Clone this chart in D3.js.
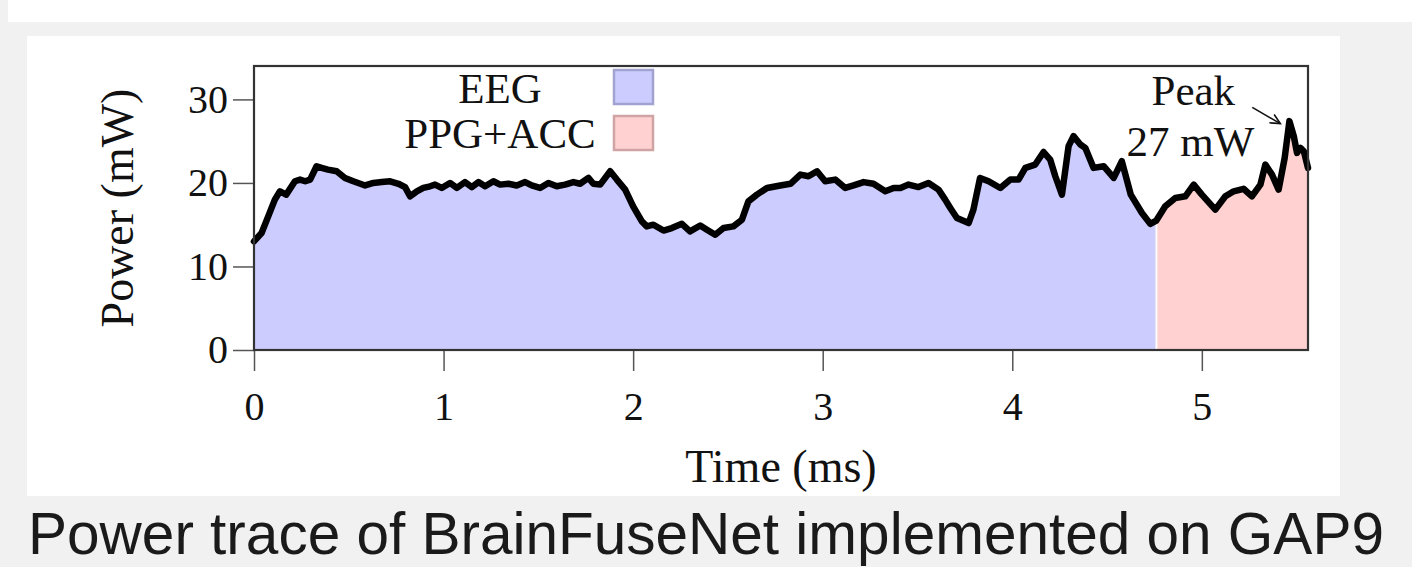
<!DOCTYPE html>
<html>
<head>
<meta charset="utf-8">
<script src="https://cdn.jsdelivr.net/npm/d3@7"></script>
<style>
  body { margin: 0; background: #f1f1f1; }
  svg { display: block; }
</style>
</head>
<body>
<script>
// power trace (time in ms, power in mW)
const timeMs = [0.00, 0.04, 0.075, 0.11, 0.137, 0.17, 0.216, 0.243, 0.27, 0.296, 0.33, 0.357, 0.39, 0.436, 0.48, 0.524, 0.586, 0.63, 0.674, 0.718,
  0.762, 0.797, 0.823, 0.859, 0.893, 0.929, 0.955, 0.99, 1.034, 1.07, 1.113, 1.149, 1.184, 1.219, 1.263, 1.298, 1.342, 1.386, 1.43, 1.465,
  1.509, 1.553, 1.597, 1.641, 1.685, 1.72, 1.764, 1.79, 1.826, 1.879, 1.914, 1.958, 2.0, 2.046, 2.072, 2.107, 2.16, 2.204, 2.257, 2.3,
  2.354, 2.389, 2.433, 2.477, 2.529, 2.574, 2.608, 2.653, 2.706, 2.776, 2.83, 2.882, 2.925, 2.97, 3.013, 3.066, 3.119, 3.163, 3.216, 3.268,
  3.33, 3.374, 3.41, 3.453, 3.505, 3.558, 3.611, 3.646, 3.673, 3.708, 3.77, 3.795, 3.83, 3.875, 3.937, 3.99, 4.033, 4.069, 4.121, 4.165,
  4.2, 4.227, 4.262, 4.297, 4.323, 4.359, 4.385, 4.429, 4.482, 4.535, 4.578, 4.625, 4.684, 4.728, 4.76, 4.807, 4.86, 4.913, 4.957, 5.0,
  5.071, 5.124, 5.168, 5.22, 5.264, 5.309, 5.335, 5.37, 5.405, 5.437, 5.462, 5.485, 5.502, 5.52, 5.538, 5.56];
const powerMw = [13.0, 14.0, 16.0, 18.0, 19.0, 18.6, 20.2, 20.4, 20.2, 20.4, 22.0, 21.8, 21.6, 21.4, 20.6, 20.2, 19.7, 20.0, 20.1, 20.2,
  19.9, 19.5, 18.4, 19.0, 19.4, 19.6, 19.8, 19.4, 20.0, 19.4, 20.1, 19.5, 20.1, 19.6, 20.2, 19.8, 19.9, 19.7, 20.1, 19.7,
  19.4, 20.0, 19.6, 19.8, 20.1, 19.9, 20.6, 19.9, 19.8, 21.4, 20.4, 19.2, 17.2, 15.4, 14.8, 15.0, 14.3, 14.6, 15.1, 14.2,
  14.9, 14.4, 13.8, 14.6, 14.8, 15.6, 17.8, 18.6, 19.4, 19.7, 19.9, 21.0, 20.8, 21.4, 20.2, 20.4, 19.4, 19.7, 20.1, 19.9,
  19.0, 19.4, 19.4, 19.8, 19.5, 20.0, 19.2, 18.0, 17.0, 15.8, 15.2, 16.8, 20.6, 20.2, 19.4, 20.4, 20.4, 21.8, 22.2, 23.7,
  22.8, 20.8, 18.6, 24.4, 25.6, 24.6, 24.2, 21.8, 22.0, 20.6, 22.6, 18.6, 16.4, 15.1, 15.5, 17.2, 18.2, 18.4, 19.8, 18.6,
  16.8, 18.4, 19.0, 19.3, 18.4, 19.8, 22.2, 21.0, 19.2, 23.0, 27.4, 25.6, 23.6, 24.2, 23.8, 21.8];

const splitTime = 4.76;           // EEG -> PPG+ACC
const phaseLabels = ["EEG", "PPG+ACC"];
const phaseColors = ["#ccccff", "#ffd1d1"];
const phaseEdges = ["#a2a2d0", "#d0a4a4"];
const xTicks = [0, 1, 2, 3, 4, 5];
const yTicks = [0, 10, 20, 30];
const peakLabel = ["Peak", "27 mW"];

const W = 1412, H = 567;
const serif = "'Liberation Serif', 'Times New Roman', serif";

const svg = d3.select("body").append("svg")
  .attr("width", W)
  .attr("height", H);

// page background pieces
svg.append("rect").attr("x", 0).attr("y", 0).attr("width", W).attr("height", H).attr("fill", "#f1f1f1");
svg.append("rect").attr("x", 8).attr("y", 0).attr("width", W - 8).attr("height", 22).attr("fill", "#ffffff");
svg.append("rect").attr("x", 27).attr("y", 36).attr("width", 1313).attr("height", 460).attr("fill", "#ffffff");

const x = d3.scaleLinear().domain([0, 5.56]).range([254, 1308]);
const y = d3.scaleLinear().domain([0, 34]).range([350, 66]);

const pts = timeMs.map((t, i) => ({t: t, p: powerMw[i]}));
const eegPts = pts.filter(d => d.t <= splitTime);
const ppgPts = pts.filter(d => d.t >= splitTime);

const area = d3.area()
  .x(d => x(d.t))
  .y0(y(0))
  .y1(d => y(d.p));

svg.append("path")
  .datum(eegPts)
  .attr("d", area)
  .attr("fill", phaseColors[0])
  .attr("stroke", "#8888cc")
  .attr("stroke-width", 1);

svg.append("path")
  .datum(ppgPts)
  .attr("d", area)
  .attr("fill", phaseColors[1])
  .attr("stroke", "#cc8888")
  .attr("stroke-width", 1);

// white seam between the two phases
svg.append("line")
  .attr("x1", x(splitTime)).attr("x2", x(splitTime))
  .attr("y1", y(0)).attr("y2", y(15.5))
  .attr("stroke", "#ffffff")
  .attr("stroke-width", 2);

// trace
const line = d3.line()
  .x(d => x(d.t))
  .y(d => y(d.p));

svg.append("path")
  .datum(pts)
  .attr("d", line)
  .attr("fill", "none")
  .attr("stroke", "#000")
  .attr("stroke-width", 6.5)
  .attr("stroke-linejoin", "round")
  .attr("stroke-linecap", "round");

// axes
const xAxis = svg.append("g")
  .attr("transform", "translate(0," + y(0) + ")")
  .call(d3.axisBottom(x).tickValues(xTicks).tickSize(21).tickSizeOuter(0).tickPadding(21).tickFormat(d3.format("d")));

const yAxis = svg.append("g")
  .attr("transform", "translate(" + x(0) + ",0)")
  .call(d3.axisLeft(y).tickValues(yTicks).tickSize(21).tickSizeOuter(0).tickPadding(5).tickFormat(d3.format("d")));

[xAxis, yAxis].forEach(function(g) {
  g.select(".domain").remove();
  g.selectAll(".tick line").attr("stroke", "#555").attr("stroke-width", 1.5);
  g.selectAll(".tick text")
    .attr("fill", "#111")
    .style("font-family", serif)
    .style("font-size", "40px");
});

// plot frame
svg.append("rect")
  .attr("x", x(0)).attr("y", y(34))
  .attr("width", x(5.56) - x(0)).attr("height", y(0) - y(34))
  .attr("fill", "none")
  .attr("stroke", "#333")
  .attr("stroke-width", 2.2);

// axis titles
svg.append("text")
  .attr("x", (x(0) + x(5.56)) / 2)
  .attr("y", 482)
  .attr("text-anchor", "middle")
  .style("font-family", serif)
  .style("font-size", "46px")
  .attr("fill", "#111")
  .text("Time (ms)");

svg.append("text")
  .attr("transform", "translate(133," + (y(0) + y(34)) / 2 + ") rotate(-90)")
  .attr("text-anchor", "middle")
  .style("font-family", serif)
  .style("font-size", "46px")
  .attr("fill", "#111")
  .text("Power (mW)");

// legend
const legend = svg.append("g");
phaseLabels.forEach(function(lab, i) {
  legend.append("text")
    .attr("x", 500)
    .attr("y", 103 + i * 45)
    .attr("text-anchor", "middle")
    .style("font-family", serif)
    .style("font-size", "43px")
    .attr("fill", "#111")
    .text(lab);
  legend.append("rect")
    .attr("x", 614).attr("y", 70 + i * 46)
    .attr("width", 39).attr("height", 34)
    .attr("fill", phaseColors[i])
    .attr("stroke", phaseEdges[i])
    .attr("stroke-width", 2.5);
});

// peak annotation
svg.append("text")
  .attr("x", x(4.955)).attr("y", 105)
  .attr("text-anchor", "middle")
  .style("font-family", serif)
  .style("font-size", "43px")
  .attr("fill", "#111")
  .text(peakLabel[0]);
svg.append("text")
  .attr("x", x(4.94)).attr("y", 156)
  .attr("text-anchor", "middle")
  .style("font-family", serif)
  .style("font-size", "43px")
  .attr("fill", "#111")
  .text(peakLabel[1]);

const ax0 = x(5.266), ay0 = y(29.05), ax1 = x(5.414), ay1 = y(27.1);
const ang = Math.atan2(ay1 - ay0, ax1 - ax0);
svg.append("line")
  .attr("x1", ax0).attr("y1", ay0).attr("x2", ax1).attr("y2", ay1)
  .attr("stroke", "#111").attr("stroke-width", 1.6);
svg.append("path")
  .attr("d", "M" + (ax1 - 11 * Math.cos(ang - 0.45)) + "," + (ay1 - 11 * Math.sin(ang - 0.45)) +
             "L" + ax1 + "," + ay1 +
             "L" + (ax1 - 11 * Math.cos(ang + 0.45)) + "," + (ay1 - 11 * Math.sin(ang + 0.45)))
  .attr("fill", "none")
  .attr("stroke", "#111")
  .attr("stroke-width", 1.6);

// caption below the panel
svg.append("text")
  .attr("x", 706)
  .attr("y", 554)
  .attr("text-anchor", "middle")
  .style("font-family", "'Liberation Sans', Arial, sans-serif")
  .style("font-size", "58.5px")
  .attr("fill", "#1a1a1a")
  .text("Power trace of BrainFuseNet implemented on GAP9");
</script>
</body>
</html>
